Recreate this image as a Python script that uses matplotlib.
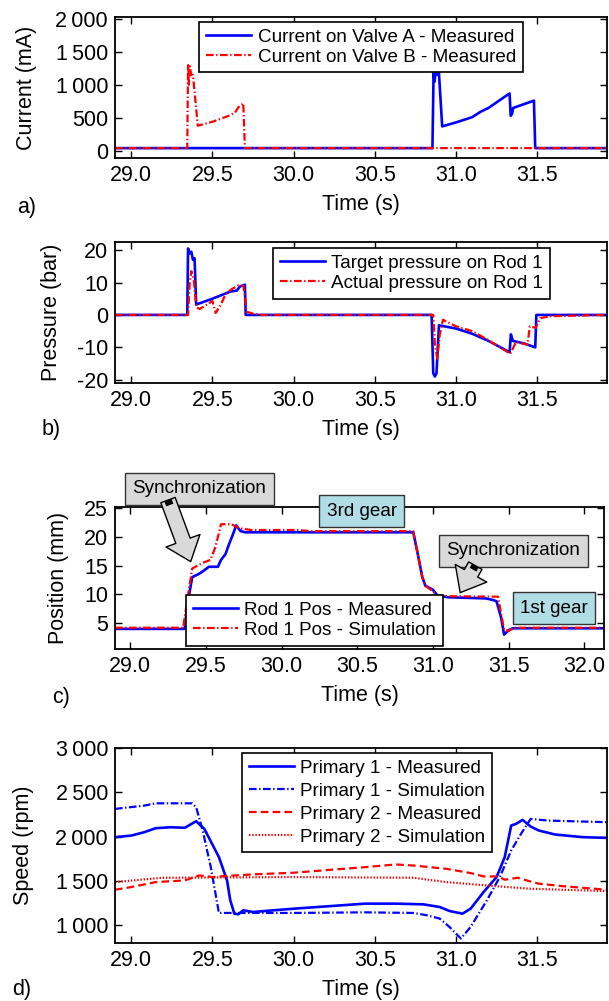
import matplotlib
matplotlib.use("Agg")
import matplotlib.pyplot as plt
from matplotlib.ticker import FuncFormatter

plt.rcParams['font.family'] = ['Liberation Sans', 'DejaVu Sans']
plt.rcParams['axes.unicode_minus'] = False
plt.rcParams['lines.scale_dashes'] = False

# ---- a) current on valves (mA)
t_valve_a = [28.9, 30.855, 30.862, 30.868, 30.874, 30.88, 30.888, 30.895, 30.915,
             31.0, 31.1, 31.15, 31.2, 31.33, 31.337, 31.345, 31.352, 31.48, 31.488, 31.93]
i_valve_a = [40, 40, 1200, 1050, 1190, 1200, 1150, 1180, 370,
             430, 510, 590, 650, 870, 530, 560, 650, 760, 40, 40]
t_valve_b = [28.9, 29.345, 29.35, 29.355, 29.36, 29.37, 29.38, 29.41, 29.5,
             29.6, 29.64, 29.66, 29.69, 29.70, 31.93]
i_valve_b = [40, 40, 1300, 1000, 1280, 1150, 1150, 380, 440,
             530, 580, 660, 720, 40, 40]

# ---- b) pressure on rod 1 (bar)
t_target = [28.9, 29.345, 29.35, 29.36, 29.37, 29.38, 29.39, 29.40, 29.5, 29.59,
            29.61, 29.65, 29.67, 29.70, 29.705, 30.85, 30.86, 30.87, 30.88, 30.895,
            31.0, 31.1, 31.2, 31.33, 31.338, 31.35, 31.42, 31.488, 31.495, 31.93]
p_target = [0, 0, 20.5, 19, 19.5, 17, 17.5, 3.2, 5, 6.8,
            7.2, 7.5, 8.8, 9.3, 0, 0, -18, -19, -18, -3.2,
            -4.2, -5.8, -8, -11.5, -6, -8, -8.8, -10, 0, 0]
t_actual = [28.9, 29.35, 29.36, 29.37, 29.385, 29.40, 29.42, 29.47, 29.5, 29.52,
            29.55, 29.58, 29.62, 29.66, 29.69, 29.70, 29.71, 29.75, 29.8,
            30.86, 30.87, 30.885, 30.90, 30.92, 30.94, 31.0, 31.1, 31.2, 31.32,
            31.335, 31.37, 31.44, 31.455, 31.47, 31.49, 31.52, 31.58, 31.93]
p_actual = [0, 0, 10, 13.5, 11, 2.5, 1.8, 3.3, 4.3, 0.6,
            3, 6.3, 8, 9.1, 9, 6, 1, 0.4, 0,
            0, -9, -13.5, -6, -1.5, -2, -3.5, -5, -7.8, -11.5,
            -12, -8.3, -9.2, -3.5, -3.7, -4, -1, -0.4, 0]

# ---- c) rod 1 position (mm)
t_pos_meas = [28.9, 29.36, 29.38, 29.41, 29.45, 29.48, 29.52, 29.58, 29.60, 29.63,
              29.65, 29.68, 29.70, 29.73, 29.76, 30.87, 30.90, 30.93, 30.95, 31.0,
              31.03, 31.1, 31.35, 31.40, 31.42, 31.45, 31.47, 31.50, 31.53, 32.13]
x_pos_meas = [4.0, 4.0, 8.5, 13.0, 13.5, 14.0, 14.8, 14.8, 16.0, 17.0,
              18.5, 20.5, 22.0, 21.0, 20.8, 20.8, 17.0, 13.0, 11.5, 10.8,
              9.8, 9.5, 9.3, 9.0, 8.8, 6.0, 3.0, 3.8, 4.1, 4.1]
t_pos_sim = [28.9, 29.35, 29.38, 29.41, 29.48, 29.53, 29.56, 29.58, 29.60, 29.67,
             29.72, 29.8, 30.1, 30.2, 30.87, 30.90, 30.93, 30.95, 31.0, 31.03,
             31.43, 31.455, 31.47, 31.50, 31.53, 32.13]
x_pos_sim = [4.2, 4.2, 9.5, 14.5, 15.5, 16.0, 18.0, 20.0, 22.2, 22.2,
             21.5, 21.2, 21.2, 21.0, 21.0, 17.0, 13.0, 11.5, 10.5, 9.7,
             9.6, 6.0, 3.8, 3.6, 4.2, 4.2]

# ---- d) primary shaft speeds (rpm)
t_p1_meas = [28.9, 29.0, 29.08, 29.15, 29.24, 29.33, 29.40, 29.45, 29.54, 29.59,
             29.61, 29.635, 29.66, 29.69, 29.75, 30.0, 30.44, 30.63, 30.80, 30.90,
             30.96, 31.04, 31.09, 31.17, 31.25, 31.30, 31.34, 31.37, 31.41, 31.46,
             31.51, 31.61, 31.78, 31.93]
n_p1_meas = [1994, 2012, 2050, 2095, 2106, 2100, 2174, 2088, 1769, 1506,
             1281, 1131, 1124, 1169, 1150, 1187, 1244, 1244, 1236, 1206,
             1161, 1131, 1187, 1375, 1544, 1769, 2125, 2144, 2189, 2114,
             2069, 2024, 1994, 1986]
t_p1_sim = [28.9, 29.08, 29.15, 29.375, 29.40, 29.44, 29.49, 29.54, 30.0, 30.44,
            30.74, 30.82, 30.90, 30.96, 31.03, 31.09, 31.19, 31.27, 31.34, 31.40,
            31.46, 31.57, 31.93]
n_p1_sim = [2313, 2350, 2376, 2376, 2331, 2069, 1656, 1139, 1139, 1146,
            1139, 1113, 1075, 981, 850, 981, 1281, 1544, 1844, 2031,
            2200, 2181, 2163]
t_p2_meas = [28.9, 29.0, 29.15, 29.33, 29.42, 29.5, 29.58, 29.75, 30.0, 30.44,
             30.63, 30.74, 30.94, 31.09, 31.17, 31.26, 31.30, 31.38, 31.42, 31.51,
             31.67, 31.93]
n_p2_meas = [1401, 1431, 1487, 1506, 1562, 1544, 1556, 1574, 1593, 1656,
             1686, 1674, 1637, 1589, 1551, 1551, 1514, 1536, 1514, 1469,
             1439, 1401]
t_p2_sim = [28.9, 29.19, 30.0, 30.74, 30.94, 31.26, 31.46, 31.93]
n_p2_sim = [1487, 1536, 1544, 1536, 1487, 1439, 1412, 1386]

xticks_abd = [29.0, 29.5, 30.0, 30.5, 31.0, 31.5]
xticks_c = [29.0, 29.5, 30.0, 30.5, 31.0, 31.5, 32.0]

W, H = 609, 1001
fig = plt.figure(figsize=(W / 100, H / 100), dpi=100)


def make_axes(left, top, right, bottom):
    return fig.add_axes([left / W, 1 - bottom / H, (right - left) / W, (bottom - top) / H])


def thousands(v, pos):
    v = int(round(v))
    if abs(v) >= 1000:
        return f"{v // 1000}\u2009{v % 1000:03d}"
    return str(v)


def style(ax, xticks, ylabel, ylab_x):
    ax.set_xticks(xticks)
    ax.xaxis.set_major_formatter(FuncFormatter(lambda v, p: f"{v:.1f}"))
    ax.tick_params(direction='in', top=True, right=True, labelsize=15.5,
                   length=5, width=1.0, pad=5)
    for s in ax.spines.values():
        s.set_linewidth(1.3)
    ax.set_xlabel("Time (s)", fontsize=15.5, labelpad=6)
    ax.set_ylabel(ylabel, fontsize=15.5)
    ax.yaxis.set_label_coords(ylab_x, 0.5)
    ax.yaxis.label.set_va('center')


def legend(ax, anchor, spacing=0.15):
    lg = ax.legend(loc='upper left', bbox_to_anchor=anchor, fontsize=13.6,
                   frameon=True, fancybox=False, framealpha=1, edgecolor='black',
                   borderaxespad=0, borderpad=0.35, labelspacing=spacing,
                   handlelength=2.4, handletextpad=0.35)
    lg.get_frame().set_linewidth(1.2)
    return lg


dashdot = (0, (5.5, 1.8, 1, 1.8))

# a)
ax = make_axes(115, 17, 607, 158)
ax.plot(t_valve_a, i_valve_a, color='blue', lw=1.9, label='Current on Valve A - Measured')
ax.plot(t_valve_b, i_valve_b, color='red', lw=1.6, ls=dashdot, label='Current on Valve B - Measured')
ax.set_xlim(28.9, 31.93)
ax.set_ylim(-110, 2030)
ax.set_yticks([0, 500, 1000, 1500, 2000])
ax.yaxis.set_major_formatter(FuncFormatter(thousands))
style(ax, xticks_abd, "Current (mA)", -0.18)
legend(ax, (0.171, 0.965))
fig.text(17 / W, 1 - 207 / H, "a)", fontsize=15.5, va='center')

# b)
ax = make_axes(115, 242, 607, 383)
ax.plot(t_target, p_target, color='blue', lw=1.9, label='Target pressure on Rod 1')
ax.plot(t_actual, p_actual, color='red', lw=1.6, ls=dashdot, label='Actual pressure on Rod 1')
ax.set_xlim(28.9, 31.93)
ax.set_ylim(-21, 22.5)
ax.set_yticks([-20, -10, 0, 10, 20])
style(ax, xticks_abd, "Pressure (bar)", -0.13)
legend(ax, (0.321, 0.957))
fig.text(42 / W, 1 - 430 / H, "b)", fontsize=15.5, va='center')

# c)
ax = make_axes(115, 507, 604, 649)
ax.plot(t_pos_meas, x_pos_meas, color='blue', lw=1.9, label='Rod 1 Pos - Measured')
ax.plot(t_pos_sim, x_pos_sim, color='red', lw=1.6, ls=dashdot, label='Rod 1 Pos - Simulation')
ax.set_xlim(28.9, 32.13)
ax.set_ylim(0.5, 25.2)
ax.set_yticks([5, 10, 15, 20, 25])
style(ax, xticks_c, "Position (mm)", -0.115)
legend(ax, (0.145, 0.38))
fig.text(52 / W, 1 - 698 / H, "c)", fontsize=15.5, va='center')

gray_box = dict(boxstyle='square,pad=0.4', fc='#d9d9d9', ec='#333333', lw=1.0)
blue_box = dict(boxstyle='square,pad=0.4', fc='#b0dde6', ec='#333333', lw=1.0)
arrow = dict(arrowstyle='simple,head_length=0.8,head_width=1.3,tail_width=0.55',
             fc='#d9d9d9', ec='black', lw=1.0, shrinkA=0, shrinkB=0, mutation_scale=20)
ax.text(29.455, 28.4, "Synchronization", fontsize=13.6, ha='center', va='center',
        bbox=gray_box, clip_on=False, zorder=5)
ax.annotate("", xy=(29.40, 15.7), xytext=(29.25, 26.4), arrowprops=arrow,
            annotation_clip=False, zorder=6)
ax.plot([29.25, 29.262], [26.4, 25.55], color='black', lw=5.5,
        solid_capstyle='butt', clip_on=False, zorder=7)
ax.text(30.53, 24.5, "3rd gear", fontsize=13.6, ha='center', va='center',
        bbox=blue_box, clip_on=False, zorder=5)
ax.text(31.53, 17.6, "Synchronization", fontsize=13.6, ha='center', va='center',
        bbox=gray_box, clip_on=False, zorder=5)
ax.annotate("", xy=(31.18, 10.3), xytext=(31.28, 15.0), arrowprops=arrow,
            annotation_clip=False, zorder=6)
ax.plot([31.28, 31.265], [15.0, 14.3], color='black', lw=5.5,
        solid_capstyle='butt', clip_on=False, zorder=7)
ax.text(31.80, 7.6, "1st gear", fontsize=13.6, ha='center', va='center',
        bbox=blue_box, clip_on=False, zorder=5)

# d)
ax = make_axes(115, 748, 607, 943)
ax.plot(t_p1_meas, n_p1_meas, color='blue', lw=1.9, label='Primary 1 - Measured')
ax.plot(t_p1_sim, n_p1_sim, color='blue', lw=1.6, ls=dashdot, label='Primary 1 - Simulation')
ax.plot(t_p2_meas, n_p2_meas, color='red', lw=1.6, ls=(0, (5.5, 3)), label='Primary 2 - Measured')
ax.plot(t_p2_sim, n_p2_sim, color='red', lw=1.6, ls=(0, (1, 1.3)), label='Primary 2 - Simulation')
ax.set_xlim(28.9, 31.93)
ax.set_ylim(800, 3000)
ax.set_yticks([1000, 1500, 2000, 2500, 3000])
ax.yaxis.set_major_formatter(FuncFormatter(thousands))
style(ax, xticks_abd, "Speed (rpm)", -0.185)
legend(ax, (0.258, 0.974), spacing=0.3)
fig.text(12 / W, 1 - 990 / H, "d)", fontsize=15.5, va='center')

fig.savefig("out.png", dpi=100)
